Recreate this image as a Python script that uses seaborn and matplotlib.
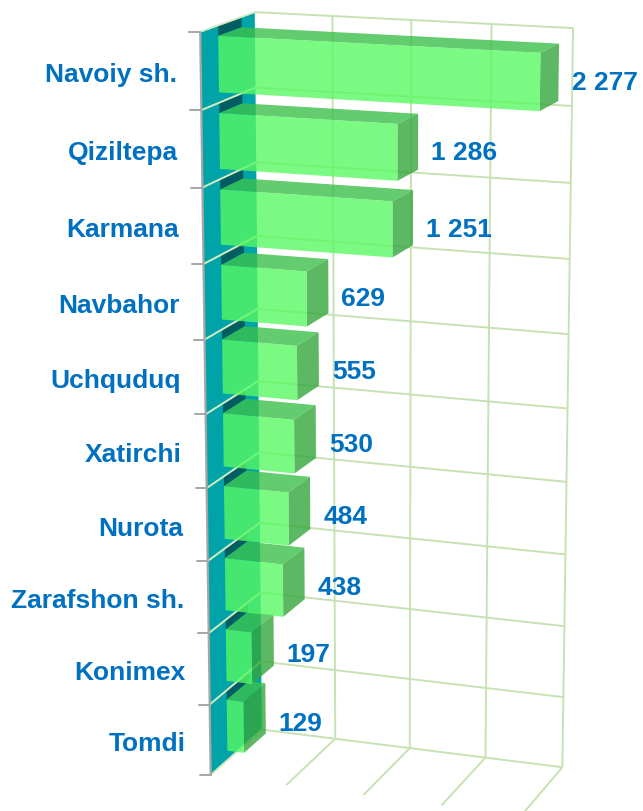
import numpy as np
import pandas as pd
import matplotlib
matplotlib.use("Agg")
import matplotlib.pyplot as plt
import matplotlib.transforms as mtransforms
from matplotlib.patches import Polygon
import seaborn as sns

# ---- data -------------------------------------------------------------
districts = ["Navoiy sh.", "Qiziltepa", "Karmana", "Navbahor", "Uchquduq",
             "Xatirchi", "Nurota", "Zarafshon sh.", "Konimex", "Tomdi"]
counts = [2277, 1286, 1251, 629, 555, 530, 484, 438, 197, 129]
axis_max = 2300
grid_step = 575

# ---- style ------------------------------------------------------------
sns.set_theme(style="white")
plt.rcParams["font.family"] = ["Liberation Sans", "DejaVu Sans"]

TEXT_BLUE = "#0070C0"
WALL_TEAL = "#00A3A8"
SHADOW = "#00474C"
GRID = "#C6E2B2"
WALL_LINE = "#D4ECC0"
AXIS_GREY = "#A6A6A6"
FRONT = "#59F963"
TOP = "#3BC04A"
SIDE = "#35A73D"
BAR_ALPHA = 0.8
BAR_WIDTH = 0.73
Z_FRONT, Z_BACK = 0.68, 0.25   # bar depth inside the box (0 = back wall, 1 = front)

W, H = 643, 812
fig = plt.figure(figsize=(W / 100, H / 100), dpi=100)
ax = fig.add_axes([0, 0, 1, 1])

# ---- perspective camera ---------------------------------------------
# corners of the 3-D chart box on the canvas: (axis fraction, row, depth) -> pixel
FRAME_ANCHORS = [
    ((0.0, 0, 0.0), (255, 13)),
    ((1.0, 0, 0.0), (573, 29)),
    ((0.0, 10, 0.0), (262, 731)),
    ((1.0, 10, 0.0), (562, 768)),
    ((0.0, 0, 1.0), (200, 33)),
    ((0.0, 10, 1.0), (210, 776)),
    ((0.25, 10, 1.0), (287, 785)),
    ((0.75, 10, 1.0), (442, 807)),
]


def fit_camera(pairs):
    rows = []
    for (X, Y, Z), (u, v) in pairs:
        Y = Y / 10.0
        u, v = u / 100.0, v / 100.0
        rows.append([X, Y, Z, 1, 0, 0, 0, 0, -u * X, -u * Y, -u * Z, -u])
        rows.append([0, 0, 0, 0, X, Y, Z, 1, -v * X, -v * Y, -v * Z, -v])
    _, _, vt = np.linalg.svd(np.array(rows, float))
    return vt[-1].reshape(3, 4)


CAM = fit_camera(FRAME_ANCHORS)


def project(x, y, z):
    x, y, z = np.broadcast_arrays(np.asarray(x, float), np.asarray(y, float),
                                  np.asarray(z, float))
    pts = np.stack([x, y / 10.0, z, np.ones_like(x)], axis=-1)
    hom = pts @ CAM.T
    return hom[..., :2] / hom[..., 2:3] * 100.0


class DepthPlane(mtransforms.Transform):
    """Maps (value, category position) on a plane of fixed depth to the canvas."""
    input_dims = output_dims = 2

    def __init__(self, plane_z):
        super().__init__()
        self.plane_z = plane_z

    def transform_non_affine(self, values):
        v = np.asarray(values, float)
        return project(v[:, 0] / axis_max, v[:, 1] + 0.5, self.plane_z)


def face(corners, **kw):
    xs, ys, zs = zip(*corners)
    pts = project(np.array(xs), np.array(ys), np.array(zs))
    ax.add_patch(Polygon(pts, closed=True, linewidth=0, **kw))


def seg(p0, p1, **kw):
    pts = project(*np.array([p0, p1]).T)
    ax.plot(pts[:, 0], pts[:, 1], solid_capstyle="butt", **kw)


n_rows = len(districts)

# ---- bars (front faces from seaborn) ----------------------------------
df = pd.DataFrame({"district": districts, "count": counts})
sns.barplot(data=df, x="count", y="district", orient="h", width=BAR_WIDTH,
            color=FRONT, saturation=1, linewidth=0, ax=ax)
bars = list(ax.patches)

# ---- side wall, back wall and floor grid -------------------------------
face([(0, 0, 1), (0, 0, 0), (0, n_rows, 0), (0, n_rows, 1)],
     facecolor=WALL_TEAL, zorder=1)

for p in bars:
    y_top = p.get_y() + 0.5
    row_top = np.floor(y_top)
    face([(0, row_top, Z_FRONT), (0, y_top, Z_FRONT), (0, y_top, Z_BACK),
          (0, row_top, Z_BACK)], facecolor=SHADOW, alpha=0.75, zorder=1.5)

for r in range(n_rows + 1):
    seg((0, r, 0), (1, r, 0), color=GRID, lw=1.4, zorder=2)
    seg((0, r, 1), (0, r, 0), color=WALL_LINE, lw=1.4, zorder=2)
for g in np.arange(grid_step, axis_max + 1, grid_step):
    f = g / axis_max
    seg((f, 0, 0), (f, n_rows, 0), color=GRID, lw=1.4, zorder=2)
    seg((f, n_rows, 0), (f, n_rows, 1), color=GRID, lw=1.4, zorder=2)

# category axis line with tick marks at the front edge
seg((0, 0, 1), (0, n_rows, 1), color=AXIS_GREY, lw=1.6, zorder=6)
for r in range(n_rows + 1):
    u, v = project(0, r, 1)
    ax.plot([u - 11, u], [v, v], color=AXIS_GREY, lw=1.4, zorder=6)

# ---- bar depth faces and labels ---------------------------------------
for p, name, val in zip(bars, districts, counts):
    w = p.get_width() / axis_max
    y_top = p.get_y() + 0.5
    y_bot = y_top + p.get_height()
    face([(0, y_top, Z_FRONT), (w, y_top, Z_FRONT), (w, y_top, Z_BACK),
          (0, y_top, Z_BACK)], facecolor=TOP, alpha=BAR_ALPHA, zorder=3)
    face([(w, y_top, Z_FRONT), (w, y_bot, Z_FRONT), (w, y_bot, Z_BACK),
          (w, y_top, Z_BACK)], facecolor=SIDE, alpha=BAR_ALPHA, zorder=3)
    p.set_transform(DepthPlane(Z_FRONT) + ax.transData)
    p.set_alpha(BAR_ALPHA)
    p.set_zorder(4)
    p.set_clip_on(False)

    yc = (y_top + y_bot) / 2
    bx, _ = project(w, yc, Z_BACK)
    _, ly = project(w, yc, (Z_FRONT + Z_BACK) / 2)
    ax.text(bx + 13, ly + 5, f"{val:,}".replace(",", " "), ha="left",
            va="center", color=TEXT_BLUE, fontsize=19, fontweight="bold",
            zorder=7)
    cx, cy = project(0, yc, 1)
    ax.text(cx - 24, cy + 3, name, ha="right", va="center",
            color=TEXT_BLUE, fontsize=19, fontweight="bold", zorder=7)

ax.set_xlim(0, W)
ax.set_ylim(H, 0)
ax.set_axis_off()

fig.savefig("out.png", dpi=100)
